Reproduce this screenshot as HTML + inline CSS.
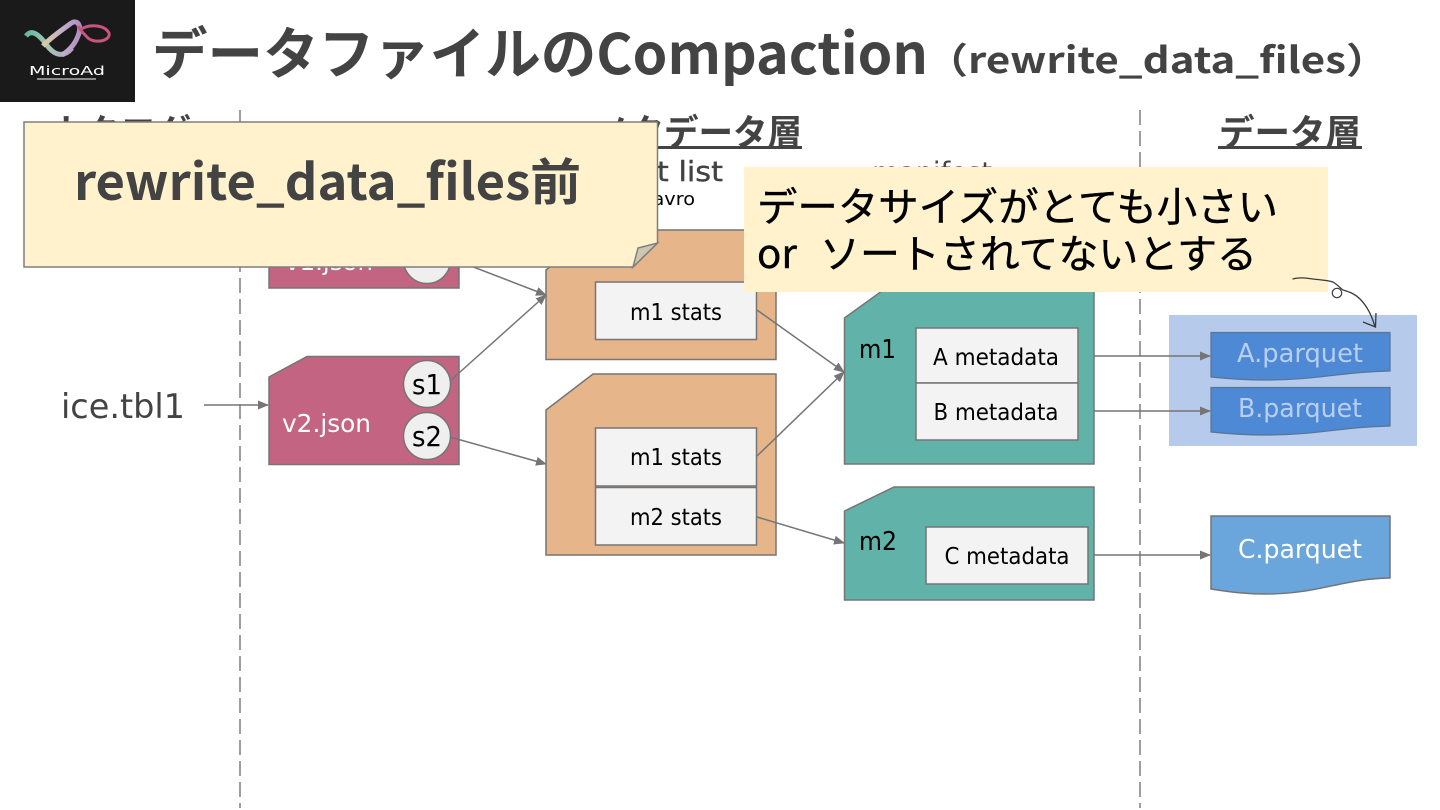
<!DOCTYPE html>
<html lang="ja"><head><meta charset="utf-8"><title>データファイルのCompaction</title>
<style>
html,body{margin:0;padding:0;background:#fff;width:1440px;height:810px;overflow:hidden}
svg{display:block}
.nt{font-family:"Noto Sans CJK JP",sans-serif}
.wq{font-family:"WenQuanYi Zen Hei","Noto Sans CJK JP",sans-serif}
.dv{font-family:"DejaVu Sans",sans-serif}
</style></head><body>
<svg width="1440" height="810" viewBox="0 0 1440 810" xmlns="http://www.w3.org/2000/svg">
<defs>
<marker id="a" markerWidth="11" markerHeight="9" refX="10" refY="4.500" orient="auto" markerUnits="userSpaceOnUse"><path d="M0,0L11,4.500L0,9Z" fill="#757575"/></marker>
<linearGradient id="g" x1="0" x2="1"><stop offset="0" stop-color="#5fb8a5"/><stop offset=".5" stop-color="#a9c4b4"/><stop offset="1" stop-color="#b39bc4"/></linearGradient>
<linearGradient id="h" x1="0" x2="1"><stop offset="0" stop-color="#d8cfa0"/><stop offset=".6" stop-color="#c0a8cc"/><stop offset="1" stop-color="#b090c0"/></linearGradient>
</defs>
<rect width="1440" height="810" fill="#fff"/>
<!-- logo -->
<rect x="0" y="0" width="135" height="102" fill="#1a1a1a"/>
<path d="M26,36C32,28 40,36 46,44C52,53 62,60 72,48" fill="none" stroke="url(#g)" stroke-width="5"/>
<path d="M43,46C50,38 62,30 70,24C78,18 82,26 78,36C75,44 70,50 62,55" fill="none" stroke="url(#h)" stroke-width="5"/>
<path d="M80,30C88,24 104,24 109,33C111,41 95,44 88,38C84,34 80,30 78,26" fill="none" stroke="#c9557f" stroke-width="3"/>
<text x="29" y="75" class="dv" font-size="12" fill="#fff" textLength="76" lengthAdjust="spacingAndGlyphs">MicroAd</text>
<rect x="37" y="78" width="59" height="2" fill="#8a8a8a"/>
<!-- title -->
<text x="152" y="74" class="nt" font-size="56" font-weight="700" fill="#434343" textLength="776" lengthAdjust="spacingAndGlyphs">データファイルのCompaction</text>
<text x="926" y="73" class="nt" font-size="36" font-weight="700" fill="#434343" textLength="462" lengthAdjust="spacingAndGlyphs">（rewrite_data_files）</text>
<!-- dashed -->
<line x1="240" y1="110" x2="240" y2="808" stroke="#757575" stroke-width="1.4" stroke-dasharray="15 6"/>
<line x1="1140" y1="110" x2="1140" y2="808" stroke="#757575" stroke-width="1.4" stroke-dasharray="15 6"/>
<!-- headings -->
<text x="50" y="145" class="nt" font-size="36" font-weight="700" fill="#434343" textLength="141" lengthAdjust="spacingAndGlyphs">カタログ</text>
<text x="595" y="145" class="nt" font-size="36" font-weight="700" fill="#434343" textLength="207" lengthAdjust="spacingAndGlyphs">メタデータ層</text>
<rect x="595" y="146" width="207" height="3" fill="#434343"/>
<text x="1219" y="145" class="nt" font-size="36" font-weight="700" fill="#434343" textLength="142" lengthAdjust="spacingAndGlyphs">データ層</text>
<rect x="1218" y="146" width="144" height="3" fill="#434343"/>
<text x="536" y="181" class="dv" font-size="28" fill="#434343" stroke="#434343" stroke-width=".4" textLength="187" lengthAdjust="spacingAndGlyphs">manifest list</text>
<text x="600" y="205" class="dv" font-size="18" fill="#000" textLength="95" lengthAdjust="spacingAndGlyphs">snap.avro</text>
<text x="872" y="181" class="dv" font-size="27" fill="#434343" textLength="120" lengthAdjust="spacingAndGlyphs">manifest</text>
<!-- v1 -->
<polygon points="269,200 459,200 459,288 269,288" fill="#c46483" stroke="#757575" stroke-width="1.5"/>
<text x="285" y="270" class="dv" font-size="24" fill="#fff" textLength="88" lengthAdjust="spacingAndGlyphs">v1.json</text>
<circle cx="427" cy="260" r="23.500" fill="#efefef" stroke="#757575" stroke-width="1.5"/>
<!-- v2 -->
<polygon points="269,377 307,356.500 459,356.500 459,464.500 269,464.500" fill="#c46483" stroke="#757575" stroke-width="1.5"/>
<text x="282" y="432" class="dv" font-size="25" fill="#fff" textLength="89" lengthAdjust="spacingAndGlyphs">v2.json</text>
<circle cx="427" cy="384" r="23.500" fill="#efefef" stroke="#757575" stroke-width="1.5"/>
<text x="427" y="394" class="dv" font-size="28" fill="#000" text-anchor="middle" textLength="30" lengthAdjust="spacingAndGlyphs">s1</text>
<circle cx="427" cy="436" r="23.500" fill="#efefef" stroke="#757575" stroke-width="1.5"/>
<text x="427" y="446" class="dv" font-size="28" fill="#000" text-anchor="middle" textLength="30" lengthAdjust="spacingAndGlyphs">s2</text>
<!-- ice.tbl1 -->
<text x="61" y="418" class="dv" font-size="34" fill="#434343" textLength="124" lengthAdjust="spacingAndGlyphs">ice.tbl1</text>
<line x1="204" y1="405" x2="268" y2="405" stroke="#757575" stroke-width="1.5" marker-end="url(#a)"/>
<!-- orange -->
<polygon points="546,270 596,230 776,230 776,359.500 546,359.500" fill="#e6b58a" stroke="#757575" stroke-width="1.5"/>
<polygon points="546,410 593,374 776,374 776,555 546,555" fill="#e6b58a" stroke="#757575" stroke-width="1.5"/>
<rect x="595.500" y="282" width="161" height="57.500" fill="#f3f3f3" stroke="#757575" stroke-width="1.5"/>
<text x="676" y="320" class="dv" font-size="23" fill="#000" text-anchor="middle" textLength="92" lengthAdjust="spacingAndGlyphs">m1 stats</text>
<rect x="595.500" y="428" width="161" height="58" fill="#f3f3f3" stroke="#757575" stroke-width="1.5"/>
<text x="676" y="465" class="dv" font-size="23" fill="#000" text-anchor="middle" textLength="92" lengthAdjust="spacingAndGlyphs">m1 stats</text>
<rect x="595.500" y="487.500" width="161" height="57.500" fill="#f3f3f3" stroke="#757575" stroke-width="1.5"/>
<text x="676" y="525" class="dv" font-size="23" fill="#000" text-anchor="middle" textLength="92" lengthAdjust="spacingAndGlyphs">m2 stats</text>
<!-- teal -->
<polygon points="844.500,318 893,283 1094,283 1094,464 844.500,464" fill="#61b2a8" stroke="#757575" stroke-width="1.5"/>
<polygon points="844.500,511 894,487 1094,487 1094,600 844.500,600" fill="#61b2a8" stroke="#757575" stroke-width="1.5"/>
<text x="859" y="358" class="dv" font-size="26" fill="#000" textLength="37" lengthAdjust="spacingAndGlyphs">m1</text>
<text x="859" y="550" class="dv" font-size="26" fill="#000" textLength="38" lengthAdjust="spacingAndGlyphs">m2</text>
<rect x="916" y="328" width="162" height="55" fill="#f3f3f3" stroke="#757575" stroke-width="1.5"/>
<text x="996" y="365" class="dv" font-size="23" fill="#000" text-anchor="middle" textLength="126" lengthAdjust="spacingAndGlyphs">A metadata</text>
<rect x="916" y="383" width="162" height="57" fill="#f3f3f3" stroke="#757575" stroke-width="1.5"/>
<text x="996" y="420" class="dv" font-size="23" fill="#000" text-anchor="middle" textLength="125" lengthAdjust="spacingAndGlyphs">B metadata</text>
<rect x="926" y="527" width="162" height="57" fill="#f3f3f3" stroke="#757575" stroke-width="1.5"/>
<text x="1007" y="564" class="dv" font-size="23" fill="#000" text-anchor="middle" textLength="125" lengthAdjust="spacingAndGlyphs">C metadata</text>
<!-- blue highlight -->
<rect x="1169" y="315" width="248" height="131" fill="#b6cbec"/>
<!-- connectors -->
<g stroke="#757575" stroke-width="1.5" fill="none" marker-end="url(#a)">
<line x1="450" y1="381" x2="546" y2="295"/>
<line x1="450" y1="437" x2="546" y2="464"/>
<line x1="450" y1="258" x2="546" y2="295"/>
<line x1="757" y1="310" x2="844" y2="372"/>
<line x1="757" y1="456" x2="844" y2="372"/>
<line x1="757" y1="517" x2="844" y2="543"/>
<line x1="1094" y1="356" x2="1210" y2="356"/>
<line x1="1094" y1="411" x2="1210" y2="411"/>
<line x1="1094" y1="555" x2="1210" y2="555"/>
</g>
<path d="M1211,332.500H1390V371C1340,372 1320,380 1265,380C1245,380 1230,379 1211,377Z" fill="#4e89d6" stroke="#5a7493" stroke-width="1.2"/>
<path d="M1211,387.500H1390V426C1340,427 1320,435 1265,435C1245,435 1230,434 1211,432Z" fill="#4e89d6" stroke="#5a7493" stroke-width="1.2"/>
<path d="M1211,516H1390V578C1340,579 1320,594 1265,594C1245,594 1230,592 1211,589Z" fill="#6aa5dc" stroke="#757575" stroke-width="1.5"/>
<text x="1300" y="362" class="dv" font-size="26" fill="#b8cff0" text-anchor="middle" textLength="126" lengthAdjust="spacingAndGlyphs">A.parquet</text>
<text x="1300" y="417" class="dv" font-size="26" fill="#b8cff0" text-anchor="middle" textLength="124" lengthAdjust="spacingAndGlyphs">B.parquet</text>
<text x="1300" y="558" class="dv" font-size="26" fill="#fff" text-anchor="middle" textLength="124" lengthAdjust="spacingAndGlyphs">C.parquet</text>
<!-- callout 1 -->
<polygon points="24,122 657.500,122 657.500,243 633,267 24,267" fill="#fff2cc" stroke="#7f7f7f" stroke-width="1.5"/>
<polygon points="633,267 638,248 657.500,243" fill="#cdc7b0" stroke="#7f7f7f" stroke-width="1.5"/>
<text x="74" y="200" class="nt" font-size="50" font-weight="700" fill="#434343" textLength="507" lengthAdjust="spacingAndGlyphs">rewrite_data_files前</text>
<!-- callout 2 -->
<rect x="744" y="167" width="584" height="125" fill="#fff2cc"/>
<text x="757" y="221" class="wq" font-size="40" fill="#000" stroke="#000" stroke-width=".4" textLength="521" lengthAdjust="spacingAndGlyphs">データサイズがとても小さい</text>
<text x="757" y="268" class="wq" font-size="40" fill="#000" stroke="#000" stroke-width=".4" textLength="40" lengthAdjust="spacingAndGlyphs">or</text>
<text x="820" y="268" class="wq" font-size="40" fill="#000" stroke="#000" stroke-width=".4" textLength="437" lengthAdjust="spacingAndGlyphs">ソートされてないとする</text>
<!-- hand arrow -->
<path d="M1292.500,279C1300,277 1306,278 1313,279C1320,280 1327,280 1333,282C1338,285 1340,288 1343,290C1350,292 1355,294 1360,299C1367,306 1372,316 1375,327" fill="none" stroke="#3a3a3a" stroke-width="1.3"/>
<path d="M1363,322L1375.500,327L1376,313" fill="none" stroke="#3a3a3a" stroke-width="1.3"/>
<circle cx="1337" cy="293" r="4.700" fill="none" stroke="#3a3a3a" stroke-width="1.2"/>
</svg>
</body></html>
